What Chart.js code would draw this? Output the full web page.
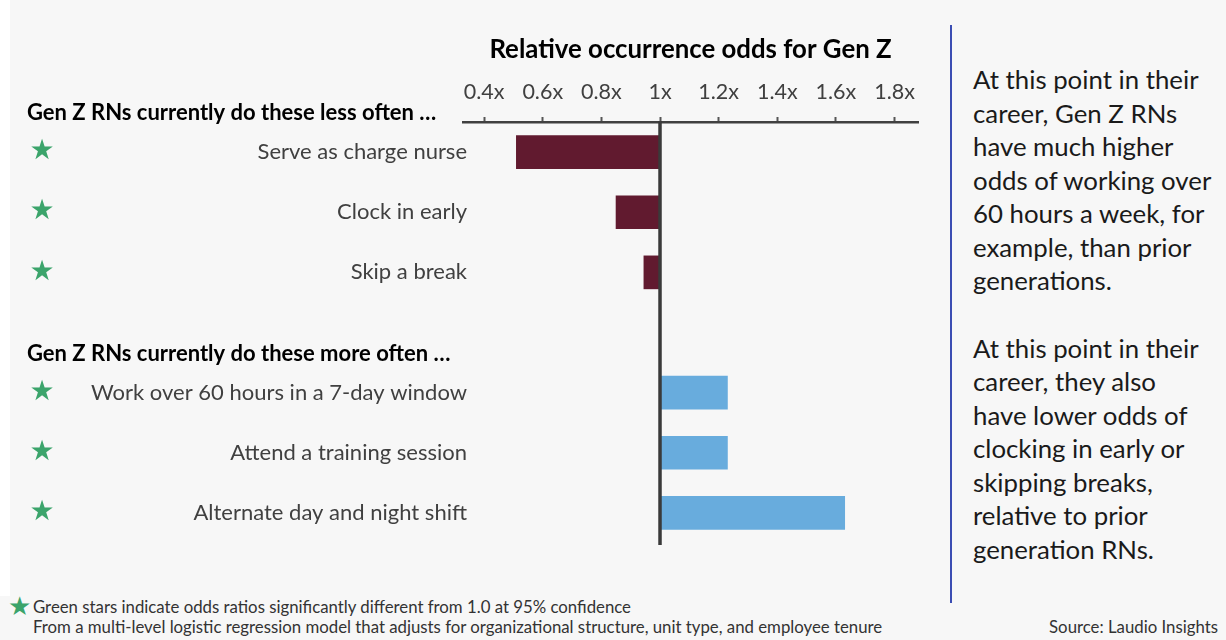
<!DOCTYPE html>
<html lang="en">
<head>
<meta charset="UTF-8">
<title>Relative occurrence odds for Gen Z</title>
<script src="https://cdn.jsdelivr.net/npm/chart.js@4.4.1/dist/chart.umd.min.js"></script>
<style>
  html, body { margin: 0; padding: 0; }
  body {
    width: 1226px; height: 640px; position: relative; overflow: hidden;
    background: #f7f7f7; font-family: Lato, "Open Sans", sans-serif;
  }
  .edge { position: absolute; left: 0; top: 0; width: 10px; height: 596px; background: #fff; }
  .chart-box { position: absolute; left: 0; top: 0; width: 940px; height: 590px; }
  .divider { position: absolute; left: 950px; top: 25px; width: 1.5px; height: 578px; background: #3b4db3; }
  .notes {
    position: absolute; left: 973px; top: 63px; white-space: nowrap;
    font-size: 25.8px; line-height: 33.5px; color: #1a1a1a;
  }
  .notes p { margin: 0 0 34px 0; }
  .foot { position: absolute; font-size: 16.8px; color: #333; white-space: nowrap; line-height: 20px; }
  .foot-star {
    position: absolute; left: 8px; top: 594px; line-height: 24px;
    color: #3ba46b; font-family: "DejaVu Sans", sans-serif; font-size: 26px;
  }
</style>
</head>
<body>
<div class="edge"></div>
<div class="chart-box"><canvas id="oddsChart"></canvas></div>
<div class="divider"></div>
<div class="notes">
  <p>At this point in their<br>career, Gen Z RNs<br>have much higher<br>odds of working over<br>60 hours a week, for<br>example, than prior<br>generations.</p>
  <p>At this point in their<br>career, they also<br>have lower odds of<br>clocking in early or<br>skipping breaks,<br>relative to prior<br>generation RNs.</p>
</div>
<div class="foot-star">★</div>
<div class="foot" style="left:33px; top:597px;">Green stars indicate odds ratios significantly different from 1.0 at 95% confidence</div>
<div class="foot" style="left:33px; top:617px;">From a multi-level logistic regression model that adjusts for organizational structure, unit type, and employee tenure</div>
<div class="foot" style="right:8px; top:617px;">Source: Laudio Insights</div>

<script>
    // behaviours, in display order; the blank slot separates the two groups
    const categories = [
        'Serve as charge nurse',
        'Clock in early',
        'Skip a break',
        '',
        'Work over 60 hours in a 7-day window',
        'Attend a training session',
        'Alternate day and night shift'
    ];
    const oddsRatios = [0.51, 0.85, 0.945, null, 1.23, 1.23, 1.63];
    const significant = [true, true, true, false, true, true, true];
    const tickValues = [0.4, 0.6, 0.8, 1, 1.2, 1.4, 1.6, 1.8];
    const groupHeadings = [
        { text: 'Gen Z RNs currently do these less often …', row: 0 },
        { text: 'Gen Z RNs currently do these more often …', row: 4 }
    ];

    const lessColor = '#611a2f';
    const moreColor = '#68acdd';
    const axisColor = '#404040';
    const labelFont = 'Lato, "Open Sans", sans-serif';

    // headings, stars and the 1x reference line
    const decorations = {
        id: 'decorations',
        afterLayout(chart) {
            // let the category labels run a few px past the axis start
            chart.scales.y.right += 4;
        },
        afterDatasetsDraw(chart) {
            const ctx = chart.ctx;
            const x = chart.scales.x;
            const y = chart.scales.y;
            const area = chart.chartArea;

            ctx.save();
            const oneX = x.getPixelForValue(1);
            ctx.strokeStyle = '#3a3a3a';
            ctx.lineWidth = 3.5;
            ctx.beginPath();
            ctx.moveTo(oneX, area.top - 1);
            ctx.lineTo(oneX, area.bottom + 2);
            ctx.stroke();

            ctx.fillStyle = '#3ba46b';
            ctx.font = '28px "DejaVu Sans", sans-serif';
            ctx.textAlign = 'center';
            ctx.textBaseline = 'middle';
            significant.forEach((s, i) => {
                if (s) ctx.fillText('★', 42, y.getPixelForValue(i));
            });

            ctx.fillStyle = '#000';
            ctx.font = 'bold 22px ' + labelFont;
            ctx.textAlign = 'left';
            groupHeadings.forEach(h => {
                ctx.fillText(h.text, 27, y.getPixelForValue(h.row) - 39);
            });
            ctx.restore();
        }
    };

    new Chart(document.getElementById('oddsChart'), {
        type: 'bar',
        data: {
            labels: categories,
            datasets: [{
                data: oddsRatios.map(v => v === null ? null : [1, v]),
                backgroundColor: oddsRatios.map(v => v !== null && v < 1 ? lessColor : moreColor),
                barThickness: 33,
                borderWidth: 0
            }]
        },
        options: {
            indexAxis: 'y',
            responsive: true,
            maintainAspectRatio: false,
            animation: false,
            layout: { padding: { top: 0, bottom: 47, right: 22, left: 0 } },
            plugins: {
                legend: { display: false },
                tooltip: { enabled: false }
            },
            scales: {
                x: {
                    position: 'top',
                    min: 0.328,
                    max: 1.88,
                    afterBuildTicks: axis => {
                        axis.ticks = tickValues.map(v => ({ value: v }));
                    },
                    afterFit: axis => { axis.height = 122; },
                    border: { display: true, color: axisColor, width: 2.5 },
                    grid: {
                        drawOnChartArea: false,
                        drawTicks: true,
                        tickLength: 5,
                        tickColor: '#555',
                        tickWidth: 2
                    },
                    ticks: {
                        padding: 12,
                        color: axisColor,
                        font: { family: labelFont, size: 21.5 },
                        callback: v => v + 'x'
                    },
                    title: {
                        display: true,
                        text: 'Relative occurrence odds for Gen Z',
                        color: '#000',
                        font: { family: labelFont, size: 25.8, weight: 'bold' },
                        padding: { top: 34 }
                    }
                },
                y: {
                    afterFit: axis => { axis.width = 463; },
                    border: { display: false },
                    grid: { display: false, drawTicks: false },
                    ticks: {
                        padding: 0,
                        color: axisColor,
                        font: { family: labelFont, size: 22 }
                    }
                }
            }
        },
        plugins: [decorations]
    });
</script>
</body>
</html>
